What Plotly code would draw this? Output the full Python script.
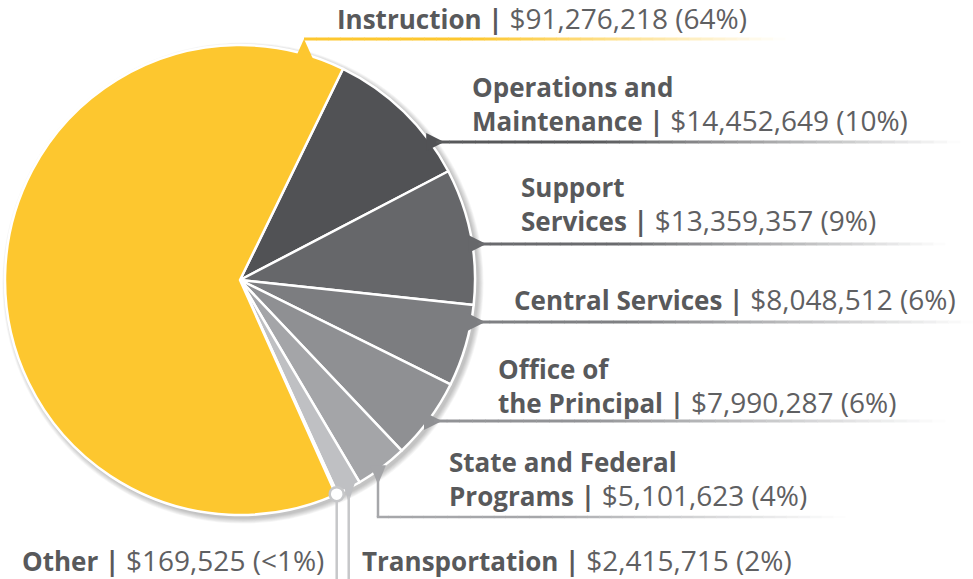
import math
import plotly.graph_objects as go

# ---------------- data ----------------
categories = ["Operations and<br>Maintenance", "Support<br>Services", "Central Services",
              "Office of<br>the Principal", "State and Federal<br>Programs",
              "Transportation", "Other", "Instruction"]
values = [14452649, 13359357, 8048512, 7990287, 5101623, 2415715, 169525, 91276218]
colors = ["#515255", "#66676a", "#7c7d80", "#8f9093", "#a4a5a8", "#bfc0c3", "#d3d4d6", "#FDC72F"]
line_colors = ["#58595b", "#6a6b6e", "#7f8083", "#929396", "#a6a7aa", "#c6c7c9", "#c6c7c9", "#FDC72F"]

W, H = 973, 579
CX, CY, R = 240, 280, 235
ROTATION = 26

total = sum(values)

def label_text(i):
    v = values[i]
    p = v / total * 100
    ps = "<1" if p < 1 else str(int(round(p)))
    return (f"<b>{categories[i]} |</b> "
            f"<span style='font-size:28px;color:#5f6062'>${v:,} ({ps}%)</span>")

fig = go.Figure()

# invisible trace to create pixel-based cartesian axes for overlays
fig.add_trace(go.Scatter(x=[0, W], y=[0, H], mode="markers", marker=dict(opacity=0),
                         hoverinfo="skip", showlegend=False))

fig.add_trace(go.Pie(
    labels=categories, values=values, sort=False, direction="clockwise",
    rotation=ROTATION, marker=dict(colors=colors, line=dict(color="white", width=2.5)),
    textinfo="none", hoverinfo="label+value+percent", showlegend=False,
    domain=dict(x=[(CX - R) / W, (CX + R) / W], y=[1 - (CY + R) / H, 1 - (CY - R) / H]),
))

shapes = []
# soft shadow (towards lower right)
for k in range(1, 8):
    rr = R + k * 0.8
    shapes.append(dict(type="circle", xref="x", yref="y", layer="below",
                       x0=CX + 3 - rr, x1=CX + 3 + rr, y0=CY + 3 - rr, y1=CY + 3 + rr,
                       fillcolor="rgba(0,0,0,0.035)", line=dict(width=0)))

def hex2rgb(h):
    h = h.lstrip("#")
    return [int(h[i:i + 2], 16) for i in (0, 2, 4)]

def fade_line(x0, x1, y, color, width=3, solid=0.3, n=40):
    c = hex2rgb(color)
    for i in range(n):
        t = (i + 0.5) / n
        a = 1 if t < solid else max(0.0, 1 - (t - solid) / (1 - solid))
        col = "rgb(%d,%d,%d)" % tuple(round(ci * a + 255 * (1 - a)) for ci in c)
        xa = x0 + (x1 - x0) * i / n
        xb = x0 + (x1 - x0) * (i + 1) / n + 0.5
        shapes.append(dict(type="line", xref="x", yref="y", layer="above",
                           x0=xa, x1=xb, y0=y, y1=y, line=dict(color=col, width=width)))

def edge_x(y):
    return CX + math.sqrt(R * R - (y - CY) ** 2)

def edge_y_bottom(x):
    return CY + math.sqrt(R * R - (x - CX) ** 2)

def tri(pts, color):
    p = "M " + " L ".join(f"{a},{b}" for a, b in pts) + " Z"
    shapes.append(dict(type="path", xref="x", yref="y", layer="above", path=p,
                       fillcolor=color, line=dict(width=0)))

# slice angles
angles = []
a = ROTATION
for v in values:
    d = v / total * 360
    angles.append((a, a + d))
    a += d

def mid_xy(i):
    m = math.radians((angles[i][0] + angles[i][1]) / 2)
    return CX + R * math.sin(m), CY - R * math.cos(m)

# horizontal leaders: (index, y, x_end)
horiz = [(0, 142, 960), (1, 244, 945), (2, 322, 973), (3, 421, 945)]
for i, y, xe in horiz:
    xe0 = edge_x(y)
    tri([(xe0 - 4, y - 9), (xe0 + 14, y), (xe0 - 4, y + 9)], colors[i])
    fade_line(xe0 + 6, xe, y, line_colors[i], width=3)

# Instruction leader (pointer up)
ix = 304
iy = CY - math.sqrt(R * R - (ix - CX) ** 2)
tri([(ix - 9, iy + 5), (ix, 39), (ix + 9, iy + 5)], colors[7])
fade_line(ix, 785, 39, line_colors[7], width=3, solid=0.35)

# State & Federal leader (down then right)
sx = 378
sy = edge_y_bottom(sx)
tri([(sx - 8, sy - 5), (sx, sy + 14), (sx + 8, sy - 5)], colors[4])
shapes.append(dict(type="line", xref="x", yref="y", layer="above",
                   x0=sx, x1=sx, y0=sy + 8, y1=517, line=dict(color=line_colors[4], width=2.5)))
fade_line(sx - 1.2, 845, 517, line_colors[4], width=2.5, solid=0.35)

# Transportation leader
tx, ty = mid_xy(5)
tri([(tx - 6, ty - 5), (tx, ty + 14), (tx + 6, ty - 5)], colors[5])
shapes.append(dict(type="line", xref="x", yref="y", layer="above",
                   x0=tx, x1=tx, y0=ty + 8, y1=H, line=dict(color=line_colors[5], width=2.5)))

# Other leader with dot
ox, oy = mid_xy(6)
shapes.append(dict(type="line", xref="x", yref="y", layer="above",
                   x0=ox, x1=ox, y0=oy, y1=H, line=dict(color=line_colors[6], width=2.5)))
shapes.append(dict(type="circle", xref="x", yref="y", layer="above",
                   x0=ox - 7, x1=ox + 7, y0=oy - 7, y1=oy + 7,
                   fillcolor="white", line=dict(color="#c6c7c9", width=2.5)))

# labels: (index, x, y)
label_pos = [(7, 335, 18), (0, 470, 104), (1, 519, 204), (2, 512, 299),
             (3, 496, 386), (4, 447, 479), (6, 20, 560), (5, 360, 560)]
annotations = []
for i, x, y in label_pos:
    annotations.append(dict(x=x, y=y, xref="x", yref="y", xanchor="left", yanchor="middle",
                            text=label_text(i), showarrow=False, align="left",
                            font=dict(family="Open Sans", size=26, color="#58595b")))

fig.update_layout(
    width=W, height=H, margin=dict(l=0, r=0, t=0, b=0),
    paper_bgcolor="white", plot_bgcolor="white",
    xaxis=dict(range=[0, W], visible=False, fixedrange=True, domain=[0, 1]),
    yaxis=dict(range=[H, 0], visible=False, fixedrange=True, domain=[0, 1]),
    shapes=shapes, annotations=annotations, showlegend=False,
)

fig.write_html("out.html", config={"displayModeBar": False},
               post_script="document.body.style.margin='0';document.body.style.padding='0';")
